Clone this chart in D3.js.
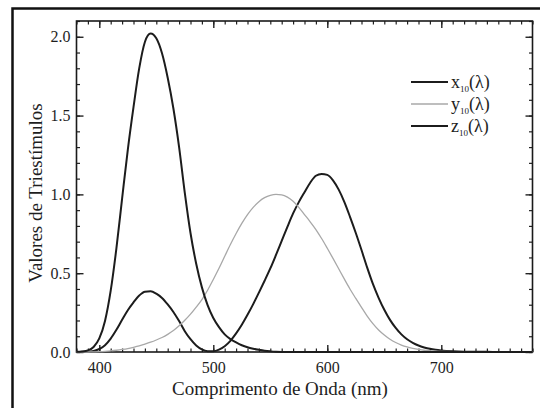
<!DOCTYPE html>
<html>
<head>
<meta charset="utf-8">
<script src="https://cdn.jsdelivr.net/npm/d3@7"></script>
<style>
  body { margin: 0; background: #fff; }
  svg { display: block; }
  text { font-family: "Liberation Serif", "Times New Roman", serif; fill: #1e1e1e; }
</style>
</head>
<body>
<div id="chart"></div>
<script>
// Data (CIE 1964 10 deg colour matching functions)
const wavelength = [380, 385, 390, 395, 400, 405, 410, 415, 420, 425, 430, 435, 440, 445, 450, 455,
  460, 465, 470, 475, 480, 485, 490, 495, 500, 505, 510, 515, 520, 525, 530, 535, 540, 545, 550, 555,
  560, 565, 570, 575, 580, 585, 590, 595, 600, 605, 610, 615, 620, 625, 630, 635, 640, 645, 650, 655,
  660, 665, 670, 675, 680, 685, 690, 695, 700, 710, 720, 730, 740, 750, 760, 770, 780]
const xBar = [0.000, 0.001, 0.002, 0.007, 0.019, 0.043, 0.085, 0.141, 0.204, 0.265, 0.315, 0.358, 0.383, 0.385, 0.370, 0.343,
  0.302, 0.254, 0.196, 0.132, 0.081, 0.041, 0.016, 0.005, 0.004, 0.015, 0.037, 0.071, 0.118, 0.173, 0.236, 0.304, 0.377, 0.452, 0.530, 0.616,
  0.705, 0.794, 0.879, 0.951, 1.014, 1.074, 1.118, 1.130, 1.124, 1.089, 1.030, 0.951, 0.856, 0.755, 0.647, 0.535, 0.432, 0.344, 0.268, 0.204,
  0.153, 0.112, 0.081, 0.058, 0.041, 0.029, 0.020, 0.014, 0.010, 0.005, 0.002, 0.001, 0.001, 0.000, 0.000, 0.000, 0.000]
const yBar = [0.000, 0.000, 0.000, 0.001, 0.002, 0.004, 0.007, 0.011, 0.016, 0.022, 0.030, 0.039, 0.050, 0.062, 0.076, 0.092,
  0.112, 0.136, 0.166, 0.201, 0.240, 0.285, 0.333, 0.392, 0.460, 0.531, 0.607, 0.682, 0.752, 0.816, 0.872, 0.918, 0.954, 0.979, 0.994, 1.000,
  0.997, 0.983, 0.957, 0.918, 0.872, 0.826, 0.777, 0.720, 0.658, 0.594, 0.528, 0.462, 0.398, 0.340, 0.283, 0.228, 0.180, 0.140, 0.108, 0.081,
  0.060, 0.044, 0.032, 0.023, 0.016, 0.011, 0.008, 0.005, 0.004, 0.002, 0.001, 0.000, 0.000, 0.000, 0.000, 0.000, 0.000]
const zBar = [0.001, 0.003, 0.010, 0.032, 0.086, 0.197, 0.389, 0.657, 0.973, 1.283, 1.553, 1.799, 1.967, 2.020, 1.990, 1.895,
  1.740, 1.545, 1.300, 1.010, 0.755, 0.560, 0.410, 0.298, 0.216, 0.158, 0.112, 0.082, 0.061, 0.043, 0.030, 0.021, 0.014, 0.008, 0.004, 0.001,
  0.000, 0.000, 0.000, 0.000, 0.000, 0.000, 0.000, 0.000, 0.000, 0.000, 0.000, 0.000, 0.000, 0.000, 0.000, 0.000, 0.000, 0.000, 0.000, 0.000,
  0.000, 0.000, 0.000, 0.000, 0.000, 0.000, 0.000, 0.000, 0.000, 0.000, 0.000, 0.000, 0.000, 0.000, 0.000, 0.000, 0.000]

const xMajorTicks = [400, 500, 600, 700]
const yMajorTicks = [0, 0.5, 1.0, 1.5, 2.0]
const seriesNames = ["x", "y", "z"]

// Dimensions
const width = 540
const height = 408
const plot = {left: 76.5, right: 532.5, top: 21, bottom: 352}
const majorTick = 7
const minorTick = 3.5

const svg = d3.select("#chart")
  .append("svg")
    .attr("width", width)
    .attr("height", height)

// Outer frame of the scanned figure
svg.append("rect")
  .attr("x", 12.5)
  .attr("y", 8.5)
  .attr("width", 600)
  .attr("height", 500)
  .attr("fill", "none")
  .attr("stroke", "#111")
  .attr("stroke-width", 2.5)

// Scales
const xScale = d3.scaleLinear()
  .domain([380, 780])
  .range([plot.left, plot.right])
const yScale = d3.scaleLinear()
  .domain([0, 2.1])
  .range([plot.bottom, plot.top])

const xMinor = xScale.ticks(40)
const yMinor = yScale.ticks(21)

// Minor ticks on all four sides
function minorAxis(axis, values, transform) {
  const g = svg.append("g")
    .attr("transform", transform)
    .call(axis.tickValues(values).tickSize(-minorTick).tickFormat(""))
  g.select(".domain").remove()
  g.selectAll("line").attr("stroke", "#222").attr("stroke-width", 1.2)
}
minorAxis(d3.axisBottom(xScale), xMinor, `translate(0,${plot.bottom})`)
minorAxis(d3.axisTop(xScale), xMinor, `translate(0,${plot.top})`)
minorAxis(d3.axisLeft(yScale), yMinor, `translate(${plot.left},0)`)
minorAxis(d3.axisRight(yScale), yMinor, `translate(${plot.right},0)`)

// Major ticks and labels
function majorAxis(axis, values, transform, fmt, padding) {
  const g = svg.append("g")
    .attr("transform", transform)
    .call(axis.tickValues(values).tickSize(-majorTick).tickPadding(padding).tickFormat(fmt))
  g.select(".domain").remove()
  g.selectAll("line").attr("stroke", "#222").attr("stroke-width", 1.4)
  g.selectAll("text")
    .attr("fill", "#1e1e1e")
    .style("font-family", "Liberation Serif, serif")
    .style("font-size", "16px")
  return g
}
majorAxis(d3.axisBottom(xScale), xMajorTicks, `translate(0,${plot.bottom})`, d3.format("d"), 10)
majorAxis(d3.axisTop(xScale), xMajorTicks, `translate(0,${plot.top})`, "", 0)
majorAxis(d3.axisLeft(yScale), yMajorTicks, `translate(${plot.left},0)`, d3.format(".1f"), 6)
majorAxis(d3.axisRight(yScale), yMajorTicks, `translate(${plot.right},0)`, "", 0)

// Plot box
svg.append("rect")
  .attr("x", plot.left)
  .attr("y", plot.top)
  .attr("width", plot.right - plot.left)
  .attr("height", plot.bottom - plot.top)
  .attr("fill", "none")
  .attr("stroke", "#1a1a1a")
  .attr("stroke-width", 1.6)

// Curves
const series = [
  {name: "x", values: xBar, color: "#1c1c1c", widthPx: 2},
  {name: "y", values: yBar, color: "#a8a8a8", widthPx: 1.3},
  {name: "z", values: zBar, color: "#1c1c1c", widthPx: 2},
]

const line = d3.line()
  .x(function(d, i) { return xScale(wavelength[i]) })
  .y(function(d) { return yScale(d) })
  .curve(d3.curveMonotoneX)

series.forEach(function(s) {
  svg.append("path")
    .datum(s.values)
    .attr("fill", "none")
    .attr("stroke", s.color)
    .attr("stroke-width", s.widthPx)
    .attr("stroke-linejoin", "round")
    .attr("d", line)
})

// Legend
const legend = svg.append("g")
series.forEach(function(s, i) {
  const ly = 82 + i * 22
  legend.append("line")
    .attr("x1", 411)
    .attr("x2", 448)
    .attr("y1", ly)
    .attr("y2", ly)
    .attr("stroke", s.color)
    .attr("stroke-width", s.widthPx)
  const t = legend.append("text")
    .attr("x", 451)
    .attr("y", ly + 6)
    .style("font-size", "18px")
  t.append("tspan").text(seriesNames[i])
  t.append("tspan").attr("dy", 4).style("font-size", "9px").text("10")
  t.append("tspan").attr("dy", -4).text("(λ)")
})

// Axis titles
svg.append("text")
  .attr("x", 280)
  .attr("y", 395)
  .attr("text-anchor", "middle")
  .style("font-size", "19px")
  .text("Comprimento de Onda (nm)")

svg.append("text")
  .attr("transform", "translate(41.5,193) rotate(-90)")
  .attr("text-anchor", "middle")
  .style("font-size", "19px")
  .text("Valores de Triestímulos")
</script>
</body>
</html>
